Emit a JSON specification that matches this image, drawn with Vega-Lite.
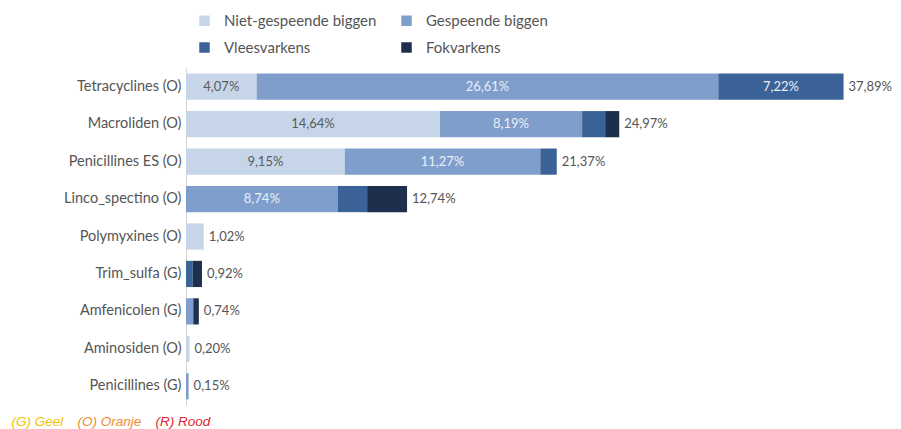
{
  "$schema": "https://vega.github.io/schema/vega-lite/v6.json",
  "width": 694,
  "height": 337,
  "autosize": {"type": "none"},
  "padding": {"left": 186, "top": 68, "right": 21, "bottom": 24},
  "background": "white",
  "config": {
    "view": {"stroke": null},
    "font": "Lato",
    "locale": {"number": {"decimal": ",", "thousands": ".", "grouping": [3], "currency": ["€ ", ""]}}
  },
  "datasets": {
    "segmenten": [
      {"middel": "Tetracyclines (O)", "categorie": "Niet-gespeende biggen", "volgorde": 1, "waarde": 0.0407},
      {"middel": "Tetracyclines (O)", "categorie": "Gespeende biggen", "volgorde": 2, "waarde": 0.2661},
      {"middel": "Tetracyclines (O)", "categorie": "Vleesvarkens", "volgorde": 3, "waarde": 0.0722},
      {"middel": "Macroliden (O)", "categorie": "Niet-gespeende biggen", "volgorde": 1, "waarde": 0.1464},
      {"middel": "Macroliden (O)", "categorie": "Gespeende biggen", "volgorde": 2, "waarde": 0.0819},
      {"middel": "Macroliden (O)", "categorie": "Vleesvarkens", "volgorde": 3, "waarde": 0.0133},
      {"middel": "Macroliden (O)", "categorie": "Fokvarkens", "volgorde": 4, "waarde": 0.0081},
      {"middel": "Penicillines ES (O)", "categorie": "Niet-gespeende biggen", "volgorde": 1, "waarde": 0.0915},
      {"middel": "Penicillines ES (O)", "categorie": "Gespeende biggen", "volgorde": 2, "waarde": 0.1127},
      {"middel": "Penicillines ES (O)", "categorie": "Vleesvarkens", "volgorde": 3, "waarde": 0.0095},
      {"middel": "Linco_spectino (O)", "categorie": "Gespeende biggen", "volgorde": 2, "waarde": 0.0874},
      {"middel": "Linco_spectino (O)", "categorie": "Vleesvarkens", "volgorde": 3, "waarde": 0.017},
      {"middel": "Linco_spectino (O)", "categorie": "Fokvarkens", "volgorde": 4, "waarde": 0.023},
      {"middel": "Polymyxines (O)", "categorie": "Niet-gespeende biggen", "volgorde": 1, "waarde": 0.0102},
      {"middel": "Trim_sulfa (G)", "categorie": "Vleesvarkens", "volgorde": 3, "waarde": 0.0039},
      {"middel": "Trim_sulfa (G)", "categorie": "Fokvarkens", "volgorde": 4, "waarde": 0.0053},
      {"middel": "Amfenicolen (G)", "categorie": "Gespeende biggen", "volgorde": 2, "waarde": 0.0042},
      {"middel": "Amfenicolen (G)", "categorie": "Fokvarkens", "volgorde": 4, "waarde": 0.0032},
      {"middel": "Aminosiden (O)", "categorie": "Niet-gespeende biggen", "volgorde": 1, "waarde": 0.002},
      {"middel": "Penicillines (G)", "categorie": "Gespeende biggen", "volgorde": 2, "waarde": 0.0015}
    ],
    "totalen": [
      {"middel": "Tetracyclines (O)", "totaal": 0.3789},
      {"middel": "Macroliden (O)", "totaal": 0.2497},
      {"middel": "Penicillines ES (O)", "totaal": 0.2137},
      {"middel": "Linco_spectino (O)", "totaal": 0.1274},
      {"middel": "Polymyxines (O)", "totaal": 0.0102},
      {"middel": "Trim_sulfa (G)", "totaal": 0.0092},
      {"middel": "Amfenicolen (G)", "totaal": 0.0074},
      {"middel": "Aminosiden (O)", "totaal": 0.002},
      {"middel": "Penicillines (G)", "totaal": 0.0015}
    ],
    "niveaus": [
      {"niveau": "(G) Geel"},
      {"niveau": "(O) Oranje"},
      {"niveau": "(R) Rood"}
    ]
  },
  "layer": [
    {
      "data": {"name": "segmenten"},
      "mark": {"type": "bar"},
      "encoding": {
        "y": {
          "field": "middel",
          "type": "nominal",
          "sort": ["Tetracyclines (O)", "Macroliden (O)", "Penicillines ES (O)", "Linco_spectino (O)", "Polymyxines (O)", "Trim_sulfa (G)", "Amfenicolen (G)", "Aminosiden (O)", "Penicillines (G)"],
          "scale": {"paddingInner": 0.3, "paddingOuter": 0.15},
          "title": null,
          "axis": {"domainColor": "#d3d3d3", "ticks": false, "labelFontSize": 14.5, "labelColor": "#555555", "labelPadding": 5, "labelLimit": 250}
        },
        "x": {"field": "waarde", "type": "quantitative", "stack": "zero", "scale": {"domain": [0, 0.4], "nice": false, "zero": true}, "axis": null},
        "order": {"field": "volgorde", "type": "quantitative", "sort": "ascending"},
        "color": {
          "field": "categorie",
          "type": "nominal",
          "scale": {"domain": ["Niet-gespeende biggen", "Vleesvarkens", "Gespeende biggen", "Fokvarkens"], "range": ["#c6d6e8", "#3b6397", "#7f9ecb", "#1d2f4c"]},
          "legend": {
            "title": null,
            "orient": "none",
            "legendX": 11,
            "legendY": -55,
            "columns": 2,
            "symbolType": "square",
            "symbolSize": 110,
            "symbolStrokeWidth": 0,
            "labelFontSize": 15,
            "labelColor": "#555555",
            "labelOffset": 12,
            "columnPadding": 22,
            "rowPadding": 11,
            "labelLimit": 300
          }
        }
      }
    },
    {
      "data": {"name": "segmenten"},
      "transform": [
        {"stack": "waarde", "groupby": ["middel"], "sort": [{"field": "volgorde", "order": "ascending"}], "as": ["x0", "x1"]},
        {"fold": ["x0", "x1"], "as": ["rand", "pos"]},
        {"aggregate": [{"op": "mean", "field": "pos", "as": "midden"}], "groupby": ["middel", "categorie", "waarde"]}
      ],
      "mark": {"type": "text", "fontSize": 13, "align": "center"},
      "encoding": {
        "y": {"field": "middel", "type": "nominal", "sort": ["Tetracyclines (O)", "Macroliden (O)", "Penicillines ES (O)", "Linco_spectino (O)", "Polymyxines (O)", "Trim_sulfa (G)", "Amfenicolen (G)", "Aminosiden (O)", "Penicillines (G)"]},
        "x": {"field": "midden", "type": "quantitative"},
        "fill": {"condition": {"test": "datum.categorie === 'Niet-gespeende biggen'", "value": "#5b5b5b"}, "value": "#e9eff7"},
        "text": {"condition": {"test": "datum.waarde >= 0.04", "field": "waarde", "type": "quantitative", "format": ".2%"}, "value": ""}
      }
    },
    {
      "data": {"name": "totalen"},
      "mark": {"type": "text", "fontSize": 13, "align": "left", "dx": 5, "fill": "#555555"},
      "encoding": {
        "y": {"field": "middel", "type": "nominal", "sort": ["Tetracyclines (O)", "Macroliden (O)", "Penicillines ES (O)", "Linco_spectino (O)", "Polymyxines (O)", "Trim_sulfa (G)", "Amfenicolen (G)", "Aminosiden (O)", "Penicillines (G)"]},
        "x": {"field": "totaal", "type": "quantitative"},
        "text": {"field": "totaal", "type": "quantitative", "format": ".2%"}
      }
    },
    {
      "data": {"name": "niveaus"},
      "mark": {"type": "point", "opacity": 0},
      "encoding": {
        "shape": {
          "field": "niveau",
          "type": "nominal",
          "legend": {
            "title": null,
            "orient": "none",
            "legendX": -188,
            "legendY": 347,
            "direction": "horizontal",
            "columns": 3,
            "symbolSize": 0,
            "symbolOpacity": 0,
            "labelOffset": 0,
            "columnPadding": 0,
            "labelFont": "Liberation Sans",
            "labelFontStyle": "italic",
            "labelFontSize": 13.5,
            "labelColor": {"expr": "datum.label === '(G) Geel' ? '#f3c300' : datum.label === '(O) Oranje' ? '#f08c2e' : '#e3262b'"}
          }
        }
      }
    }
  ]
}
